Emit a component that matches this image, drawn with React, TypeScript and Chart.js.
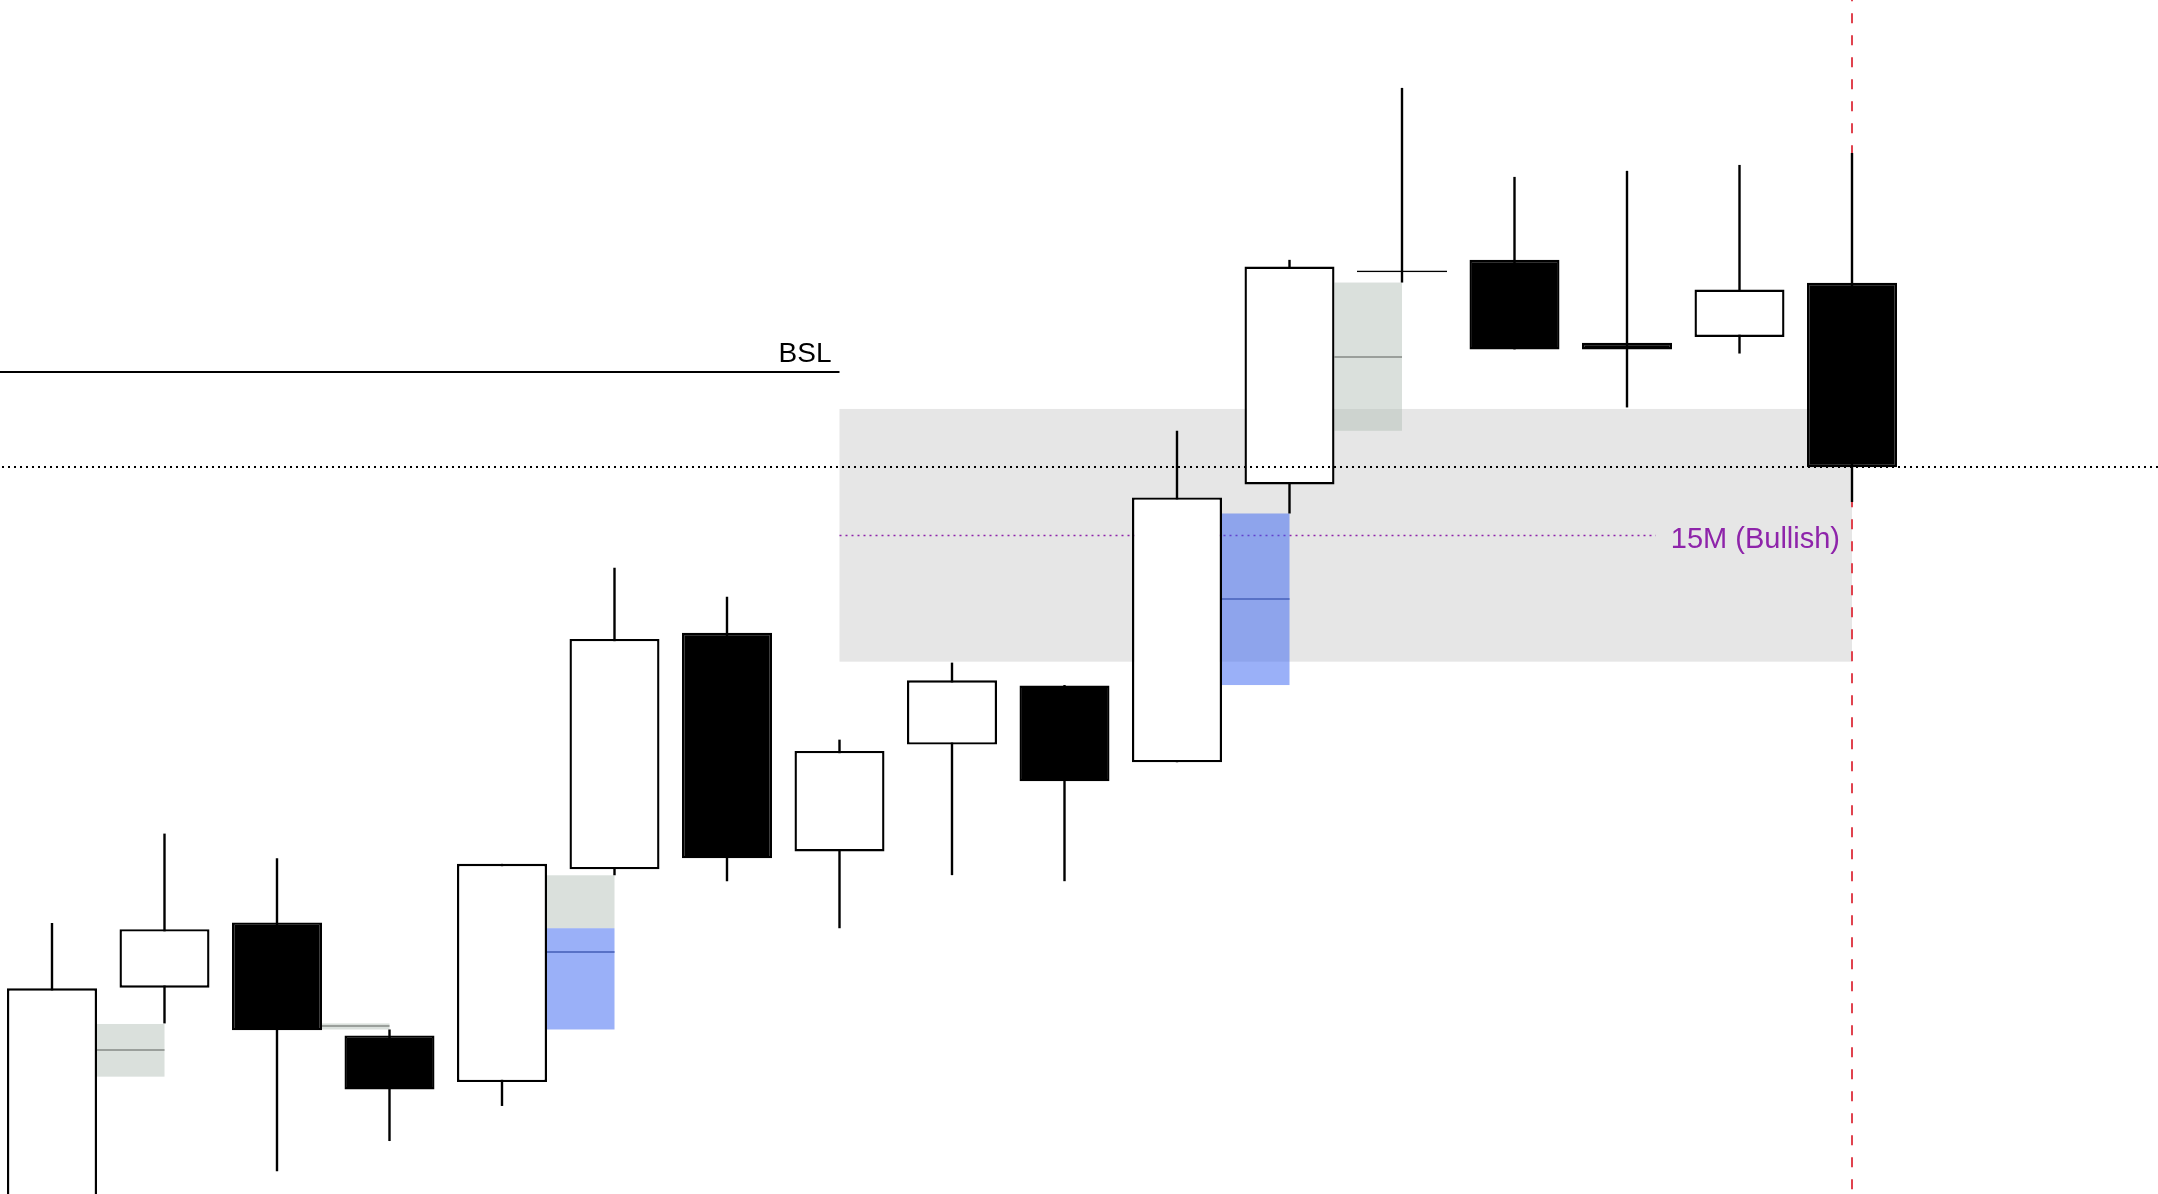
import React, { useEffect, useRef } from "react";
import { Chart, registerables } from "chart.js";

Chart.register(...registerables);

// ---- Candles (price units) ----
const candleIndex = [0, 1, 2, 3, 4, 5, 6, 7, 8, 9, 10, 11, 12, 13, 14, 15, 16];
const opens = [96.3, 115.0, 119.74, 111.53, 108.14, 123.6, 140.8, 124.9, 132.67, 136.96, 131.38, 151.58, 167.0, 167.91, 161.88, 162.31, 166.24];
const highs = [119.7, 126.2, 124.4, 111.96, 124.0, 145.53, 143.42, 133.03, 138.63, 137.0, 155.48, 167.91, 180.41, 173.94, 174.38, 174.81, 175.68];
const lows = [93.8, 112.4, 101.65, 103.85, 106.4, 123.17, 122.74, 119.32, 123.18, 122.74, 131.38, 149.47, 166.26, 161.4, 157.18, 161.1, 150.31];
const closes = [114.95, 119.25, 111.9, 107.6, 124.0, 140.35, 124.4, 132.21, 137.34, 130.0, 150.64, 167.42, 167.14, 161.4, 161.4, 165.75, 152.84];

// ---- Fair value gaps (middle candle index, gap low/high, filled-down-to level) ----
const fvgIndex = [0, 2, 4, 10, 11];
const fvgLow = [108.53, 111.96, 111.96, 137.0, 155.48];
const fvgHigh = [112.36, 112.4, 123.17, 149.47, 166.26];
const fvgFill = [108.53, 111.96, 119.32, 149.47, 155.48];

// ---- Higher-timeframe zone ----
const zoneStartIndex = [7];
const zoneEndIndex = [16];
const zoneHigh = [157.07];
const zoneLow = [138.7];
const zoneLabels = ["15M (Bullish)"];

// ---- Liquidity level ----
const bslLevel = [159.78];
const bslEndIndex = [7];
const bslLabels = ["BSL"];

// ---- Session cut-off ----
const cutoffIndex = [16];

// axis ranges
const xRange = [-0.4622, 18.72];
const yRange = [100, 186.8];

const BODY_W = 90;
const GREY_BOX = "rgba(178,190,181,0.48)";
const BLUE_BOX = "rgba(53,97,241,0.5)";
const GREY_MID = "#9a9f9b";
const BLUE_MID = "#5871c6";
const ZONE_FILL = "#e6e6e6";
const PURPLE = "#8e24aa";
const RED = "#e0424e";
const FONT = '"Liberation Sans", Arial, sans-serif';

const annotationPlugin = {
  id: "ictAnnotations",
  beforeDatasetsDraw(chart: any) {
    const { ctx, chartArea } = chart;
    const xs = chart.scales.x;
    const ys = chart.scales.y;
    ctx.save();

    // zone rectangles
    zoneStartIndex.forEach((s, k) => {
      const x0 = xs.getPixelForValue(s);
      const x1 = xs.getPixelForValue(zoneEndIndex[k]);
      const y0 = ys.getPixelForValue(zoneHigh[k]);
      const y1 = ys.getPixelForValue(zoneLow[k]);
      ctx.fillStyle = ZONE_FILL;
      ctx.fillRect(x0, y0, x1 - x0, y1 - y0);
    });

    // red dashed cut-off
    cutoffIndex.forEach((c) => {
      const x = Math.round(xs.getPixelForValue(c));
      ctx.strokeStyle = RED;
      ctx.lineWidth = 2;
      ctx.setLineDash([10, 12]);
      ctx.lineDashOffset = 8.7;
      ctx.beginPath();
      ctx.moveTo(x, chartArea.top);
      ctx.lineTo(x, chartArea.bottom);
      ctx.stroke();
    });

    // purple dotted midline of zone
    ctx.font = `29px ${FONT}`;
    zoneStartIndex.forEach((s, k) => {
      const x0 = xs.getPixelForValue(s);
      const xEnd = xs.getPixelForValue(zoneEndIndex[k]);
      const mid = (zoneHigh[k] + zoneLow[k]) / 2;
      const y = Math.round(ys.getPixelForValue(mid)) + 0.5;
      const textW = ctx.measureText(zoneLabels[k]).width;
      const lineEnd = xEnd - 12 - textW - 15;
      ctx.strokeStyle = PURPLE;
      ctx.lineWidth = 1.6;
      ctx.setLineDash([2, 4]);
      ctx.lineDashOffset = 0;
      ctx.beginPath();
      ctx.moveTo(x0, y);
      ctx.lineTo(lineEnd, y);
      ctx.stroke();
    });

    // FVG boxes
    ctx.setLineDash([]);
    fvgIndex.forEach((idx, k) => {
      const left = xs.getPixelForValue(idx) + BODY_W / 2;
      const right = xs.getPixelForValue(idx + 1);
      const yHigh = ys.getPixelForValue(fvgHigh[k]);
      const yFill = ys.getPixelForValue(fvgFill[k]);
      const yLow = ys.getPixelForValue(fvgLow[k]);
      if (yFill > yHigh) {
        ctx.fillStyle = GREY_BOX;
        ctx.fillRect(left, yHigh, right - left, yFill - yHigh);
      }
      if (yLow > yFill) {
        ctx.fillStyle = BLUE_BOX;
        ctx.fillRect(left, yFill, right - left, yLow - yFill);
      }
      const mid = (fvgHigh[k] + fvgLow[k]) / 2;
      const yMid = Math.round(ys.getPixelForValue(mid));
      ctx.strokeStyle = mid < fvgFill[k] ? BLUE_MID : GREY_MID;
      ctx.lineWidth = 2;
      ctx.beginPath();
      ctx.moveTo(left, yMid);
      ctx.lineTo(right, yMid);
      ctx.stroke();
    });
    ctx.restore();
  },
  afterDatasetsDraw(chart: any) {
    const { ctx, chartArea } = chart;
    const xs = chart.scales.x;
    const ys = chart.scales.y;
    ctx.save();

    // current price dotted line
    const lastClose = closes[closes.length - 1];
    const yc = Math.round(ys.getPixelForValue(lastClose));
    ctx.strokeStyle = "#000";
    ctx.lineWidth = 2;
    ctx.setLineDash([2, 4]);
    ctx.lineDashOffset = 4;
    ctx.beginPath();
    ctx.moveTo(chartArea.left, yc);
    ctx.lineTo(chartArea.right, yc);
    ctx.stroke();

    // BSL line + label
    ctx.setLineDash([]);
    bslLevel.forEach((lvl, k) => {
      const y = Math.round(ys.getPixelForValue(lvl));
      const x1 = xs.getPixelForValue(bslEndIndex[k]);
      ctx.strokeStyle = "#000";
      ctx.lineWidth = 2;
      ctx.beginPath();
      ctx.moveTo(chartArea.left, y);
      ctx.lineTo(x1, y);
      ctx.stroke();
      ctx.fillStyle = "#000";
      ctx.font = `28px ${FONT}`;
      ctx.textAlign = "right";
      ctx.textBaseline = "alphabetic";
      ctx.fillText(bslLabels[k], x1 - 8, y - 10);
    });

    // zone label
    zoneStartIndex.forEach((s, k) => {
      const xEnd = xs.getPixelForValue(zoneEndIndex[k]);
      const mid = (zoneHigh[k] + zoneLow[k]) / 2;
      const y = ys.getPixelForValue(mid);
      ctx.fillStyle = PURPLE;
      ctx.font = `29px ${FONT}`;
      ctx.textAlign = "right";
      ctx.textBaseline = "alphabetic";
      ctx.fillText(zoneLabels[k], xEnd - 12, y + 12.5);
    });
    ctx.restore();
  },
};

export default function App() {
  const ref = useRef<HTMLCanvasElement>(null);
  useEffect(() => {
    const bull = candleIndex.map((i) => closes[i] >= opens[i]);
    const chart = new Chart(ref.current as HTMLCanvasElement, {
      type: "bar",
      data: {
        datasets: [
          {
            label: "wicks",
            data: candleIndex.map((i) => ({ x: i, y: [lows[i], highs[i]] })) as any,
            backgroundColor: "#000",
            borderWidth: 0,
            barThickness: 2.4,
            grouped: false,
            inflateAmount: 0,
            order: 2,
          } as any,
          {
            label: "bodies",
            data: candleIndex.map((i) => ({
              x: i,
              y: [Math.min(opens[i], closes[i]), Math.max(opens[i], closes[i])],
            })) as any,
            backgroundColor: bull.map((b) => (b ? "#ffffff" : "#000000")),
            borderColor: "#000",
            borderWidth: 2.4,
            borderSkipped: false,
            barThickness: BODY_W,
            grouped: false,
            inflateAmount: 0,
            order: 1,
          } as any,
        ],
      },
      options: {
        responsive: false,
        maintainAspectRatio: false,
        devicePixelRatio: 1,
        animation: false,
        events: [],
        layout: { padding: 0 },
        plugins: { legend: { display: false }, tooltip: { enabled: false } },
        scales: {
          x: { type: "linear", min: xRange[0], max: xRange[1], offset: false, display: false },
          y: { type: "linear", min: yRange[0], max: yRange[1], beginAtZero: false, display: false },
        },
      },
      plugins: [annotationPlugin],
    } as any);
    return () => chart.destroy();
  }, []);
  return (
    <div style={{ position: "fixed", left: 0, top: 0, width: 2158, height: 1194, background: "#fff" }}>
      <canvas ref={ref} width={2158} height={1194} style={{ display: "block", width: 2158, height: 1194 }} />
    </div>
  );
}
